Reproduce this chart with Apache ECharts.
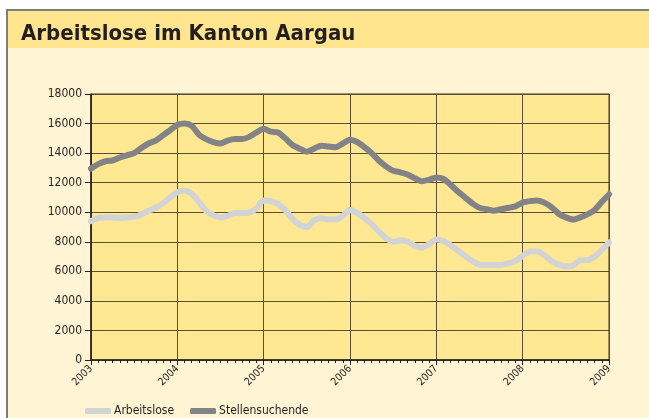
<!DOCTYPE html>
<html>
<head>
<meta charset="utf-8">
<script src="https://cdn.jsdelivr.net/npm/echarts@6/dist/echarts.min.js"></script>
<style>
  html, body { margin: 0; padding: 0; background: #ffffff; }
  #main { width: 649px; height: 418px; }
</style>
</head>
<body>
<div id="main"></div>
<script>
// monatliche Werte, Januar 2003 bis Januar 2009
var startYear = 2003;
var yearTicks = ['2003', '2004', '2005', '2006', '2007', '2008', '2009'];
var seriesNames = ['Arbeitslose', 'Stellensuchende'];

var arbeitslose = [
  9400, 9600, 9650, 9650, 9600, 9650, 9700, 9850, 10100, 10300, 10600, 11000,
  11350, 11450, 11250, 10700, 10100, 9800, 9650, 9750, 9950, 9950, 9980, 10250,
  10800, 10750, 10550, 10150, 9550, 9150, 9000, 9450, 9600, 9500, 9500, 9750,
  10150, 9950, 9600, 9200, 8700, 8250, 8000, 8100, 8000, 7750, 7600, 7850,
  8150, 8050, 7750, 7400, 7050, 6700, 6450, 6430, 6430, 6430, 6550, 6700,
  7050, 7350, 7350, 7100, 6700, 6450, 6350, 6400, 6750, 6750, 7000, 7450,
  7950
];
var stellensuchende = [
  12950, 13250, 13450, 13500, 13700, 13850, 14000, 14350, 14650, 14850, 15200, 15550,
  15900, 16000, 15850, 15250, 14950, 14750, 14650, 14850, 14950, 14950, 15100, 15400,
  15650, 15450, 15400, 15000, 14550, 14300, 14100, 14300, 14500, 14450, 14400, 14650,
  14900, 14750, 14400, 14000, 13500, 13100, 12800, 12700, 12550, 12300, 12100, 12200,
  12350, 12250, 11850, 11400, 11000, 10600, 10300, 10200, 10100, 10200, 10300, 10400,
  10650, 10750, 10800, 10650, 10350, 9900, 9650, 9500, 9650, 9850, 10150, 10700,
  11200
];

function toPoints(arr) {
  var out = [];
  for (var i = 0; i < arr.length; i++) {
    out.push([startYear + i / 12, arr[i]]);
  }
  return out;
}

var textColor = '#231f20';
var fontFam = '"DejaVu Sans Condensed", "DejaVu Sans", sans-serif';

var myChart = echarts.init(document.getElementById('main'));
myChart.setOption({
  animation: false,
  backgroundColor: '#ffffff',
  graphic: [
    // Rahmen + Hintergrund
    { type: 'rect', z: -10, shape: { x: 6, y: 9, width: 650, height: 420 }, style: { fill: '#7d7d7d' } },
    { type: 'rect', z: -9, shape: { x: 8, y: 11, width: 650, height: 420 }, style: { fill: '#fff4d3' } },
    { type: 'rect', z: -8, shape: { x: 8, y: 11, width: 650, height: 37 }, style: { fill: '#ffe68e' } }
  ],
  title: {
    text: 'Arbeitslose im Kanton Aargau',
    left: 16,
    top: 18,
    textStyle: { fontFamily: fontFam, fontSize: 22, fontWeight: 'bold', color: textColor }
  },
  legend: {
    left: 80,
    top: 400,
    itemWidth: 26,
    itemHeight: 6,
    itemGap: 16,
    icon: 'roundRect',
    textStyle: { fontFamily: fontFam, fontSize: 12, color: textColor, padding: [0, 0, 0, -2] },
    data: seriesNames
  },
  grid: {
    left: 91,
    right: 40,
    top: 94,
    bottom: 58,
    show: true,
    backgroundColor: '#ffe891',
    borderColor: '#3a3020',
    borderWidth: 1
  },
  xAxis: {
    type: 'value',
    min: 2003,
    max: 2009,
    interval: 1,
    axisLine: { show: true, onZero: false, lineStyle: { color: '#231f20', width: 1.5 } },
    axisTick: { show: true, inside: false, length: 5, lineStyle: { color: '#231f20' } },
    minorTick: { show: true, splitNumber: 12, length: 3, lineStyle: { color: '#231f20' } },
    splitLine: { show: true, lineStyle: { color: '#5a4e34', width: 1 } },
    axisLabel: {
      rotate: 45,
      margin: 7,
      fontFamily: fontFam,
      fontSize: 10.5,
      color: textColor,
      formatter: function (v) {
        var idx = Math.round(v - startYear);
        return yearTicks[idx] || '';
      }
    }
  },
  yAxis: {
    type: 'value',
    min: 0,
    max: 18000,
    interval: 2000,
    axisLine: { show: true, lineStyle: { color: '#231f20', width: 1.5 } },
    axisTick: { show: true, inside: false, length: 6, lineStyle: { color: '#231f20' } },
    splitLine: { show: true, lineStyle: { color: '#5a4e34', width: 1 } },
    axisLabel: {
      fontFamily: fontFam,
      fontSize: 12,
      color: textColor,
      margin: 9,
      formatter: function (v) { return String(v); }
    }
  },
  series: [
    {
      name: seriesNames[0],
      type: 'line',
      showSymbol: false,
      smooth: 0.25,
      data: toPoints(arbeitslose),
      itemStyle: { color: '#d2d3d4' },
      lineStyle: { color: '#d2d3d4', width: 6, cap: 'round', join: 'round' }
    },
    {
      name: seriesNames[1],
      type: 'line',
      showSymbol: false,
      smooth: 0.25,
      data: toPoints(stellensuchende),
      itemStyle: { color: '#828386' },
      lineStyle: { color: '#828386', width: 6, cap: 'round', join: 'round' }
    }
  ]
});
</script>
</body>
</html>
